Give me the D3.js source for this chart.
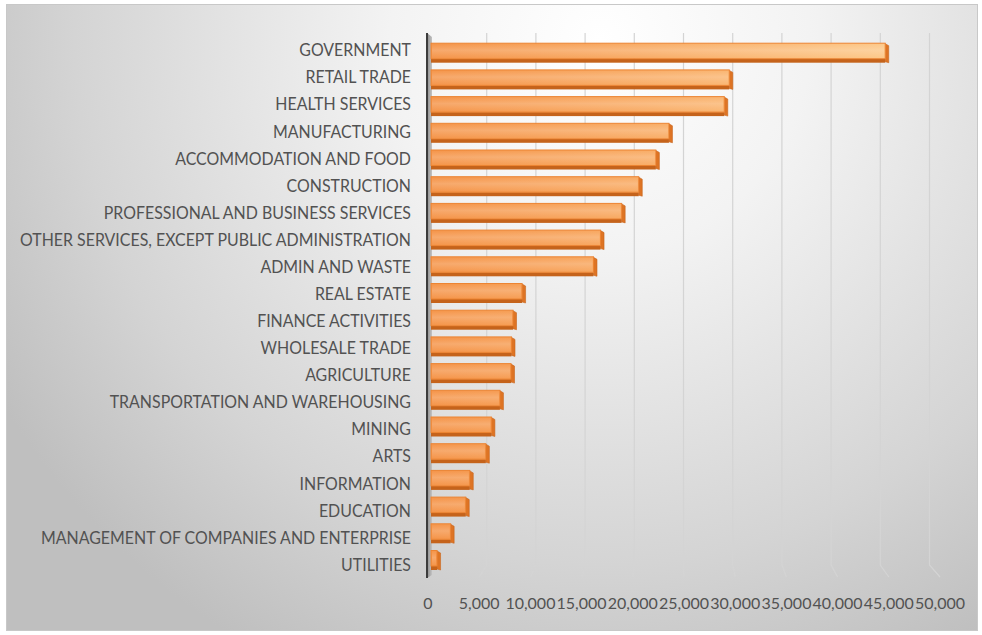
<!DOCTYPE html>
<html>
<head>
<meta charset="utf-8">
<script src="https://cdn.jsdelivr.net/npm/d3@7"></script>
<style>
  html, body { margin: 0; padding: 0; background: #ffffff; }
  svg { display: block; }
  text { font-family: Lato, "Open Sans", sans-serif; fill: #525252; }
</style>
</head>
<body>
<svg id="chart" width="982" height="635"></svg>
<script>
// Employment by industry
const categories = [
  "GOVERNMENT", "RETAIL TRADE", "HEALTH SERVICES", "MANUFACTURING",
  "ACCOMMODATION AND FOOD", "CONSTRUCTION", "PROFESSIONAL AND BUSINESS SERVICES",
  "OTHER SERVICES, EXCEPT PUBLIC ADMINISTRATION", "ADMIN AND WASTE", "REAL ESTATE",
  "FINANCE ACTIVITIES", "WHOLESALE TRADE", "AGRICULTURE", "TRANSPORTATION AND WAREHOUSING",
  "MINING", "ARTS", "INFORMATION", "EDUCATION",
  "MANAGEMENT OF COMPANIES AND ENTERPRISE", "UTILITIES"
];
const employment = [
  45500, 30000, 29500, 24000,
  22700, 21000, 19300,
  17200, 16500, 9400,
  8500, 8350, 8300, 7200,
  6350, 5800, 4200, 3800,
  2300, 950
];
const tickValues = [0, 5000, 10000, 15000, 20000, 25000, 30000, 35000, 40000, 45000, 50000];

const svg = d3.select("#chart");
const defs = svg.append("defs");

// ---- backdrop -------------------------------------------------------
const bg = defs.append("radialGradient").attr("id", "bgGrad")
  .attr("gradientUnits", "userSpaceOnUse")
  .attr("cx", 600).attr("cy", 40).attr("r", 700);
bg.append("stop").attr("offset", 0).attr("stop-color", "#ffffff");
bg.append("stop").attr("offset", 0.3).attr("stop-color", "#f3f3f3");
bg.append("stop").attr("offset", 0.75).attr("stop-color", "#d4d4d4");
bg.append("stop").attr("offset", 1).attr("stop-color", "#bfbfbf");

svg.append("rect")
  .attr("x", 6.5).attr("y", 4.5).attr("width", 971).attr("height", 626)
  .attr("fill", "url(#bgGrad)").attr("stroke", "#c8c8c8").attr("stroke-width", 1);

// ---- scales ---------------------------------------------------------
const domainMax = d3.max(tickValues);
// back wall (gridlines), bar fronts and the floor's front edge sit at different depths
const xWall  = d3.scaleLinear().domain([0, domainMax]).range([437.5, 929.5]);
const xBar   = d3.scaleLinear().domain([0, domainMax]).range([431, 934]);
const xFloor = d3.scaleLinear().domain([0, domainMax]).range([428, 940]);

const yBar = d3.scaleBand().domain(categories).range([39.6, 573.6])
  .paddingInner(0.27).paddingOuter(0.135);
const yLabel = d3.scalePoint().domain(categories).range([50.5, 565]);

const wallTop = 33, wallBottom = 565, floorFront = 577;

// ---- gridlines on the back wall, bending across the floor -----------
svg.append("g").attr("class", "grid")
  .selectAll("path")
  .data(tickValues.filter(v => v > 0))
  .join("path")
  .attr("d", v => `M${xWall(v)},${wallTop} L${xWall(v)},${wallBottom} L${xFloor(v)},${floorFront}`)
  .attr("fill", "none")
  .attr("stroke", "#d4d4d4")
  .attr("stroke-width", 1.2);

// ---- side wall and axis edge ----------------------------------------
const wallGrad = defs.append("linearGradient").attr("id", "wallGrad")
  .attr("x1", 0).attr("x2", 1).attr("y1", 0).attr("y2", 0);
wallGrad.append("stop").attr("offset", 0).attr("stop-color", "#8c8c8c");
wallGrad.append("stop").attr("offset", 1).attr("stop-color", "#c4c4c4");
svg.append("path")
  .attr("d", `M427,${wallTop} L${xBar(0) + 1},${wallTop + 4} L${xBar(0) + 1},${floorFront - 2} L427,${floorFront + 1} Z`)
  .attr("fill", "url(#wallGrad)");
svg.append("line")
  .attr("x1", 427).attr("x2", 427).attr("y1", wallTop).attr("y2", floorFront + 1)
  .attr("stroke", "#3c3c3c").attr("stroke-width", 2);

// ---- bars -----------------------------------------------------------
const faceGrad = defs.append("linearGradient").attr("id", "faceGrad")
  .attr("gradientUnits", "userSpaceOnUse")
  .attr("x1", xBar(0)).attr("x2", xBar(46000)).attr("y1", 0).attr("y2", 0);
faceGrad.append("stop").attr("offset", 0).attr("stop-color", "#f5964c");
faceGrad.append("stop").attr("offset", 0.5).attr("stop-color", "#f9af6a");
faceGrad.append("stop").attr("offset", 1).attr("stop-color", "#fdca8c");

const sheen = defs.append("linearGradient").attr("id", "sheen")
  .attr("x1", 0).attr("x2", 0).attr("y1", 0).attr("y2", 1);
sheen.append("stop").attr("offset", 0).attr("stop-color", "#ffffff").attr("stop-opacity", 0);
sheen.append("stop").attr("offset", 0.45).attr("stop-color", "#ffffff").attr("stop-opacity", 0.18);
sheen.append("stop").attr("offset", 1).attr("stop-color", "#ffffff").attr("stop-opacity", 0);

const rows = categories.map((c, i) => ({ cat: c, value: employment[i] }));
const bh = yBar.bandwidth();
const depth = 3.5, under = 4;

const bars = svg.append("g").attr("class", "bars")
  .selectAll("g").data(rows).join("g");

// end cap (right face)
bars.append("path")
  .attr("d", d => {
    const x1 = xBar(d.value), y = yBar(d.cat);
    return `M${x1 - depth},${y + 0.5} L${x1},${y + 2.5} L${x1},${y + bh} L${x1 - depth},${y + bh - 1} Z`;
  })
  .attr("fill", "#de7424").attr("stroke", "#c8651c").attr("stroke-width", 0.6);

// underside
bars.append("rect")
  .attr("x", xBar(0))
  .attr("y", d => yBar(d.cat) + bh - under)
  .attr("width", d => Math.max(0, xBar(d.value) - depth - xBar(0)))
  .attr("height", under)
  .attr("fill", "#c5631b");

// front face
bars.append("rect")
  .attr("x", xBar(0))
  .attr("y", d => yBar(d.cat))
  .attr("width", d => Math.max(0, xBar(d.value) - depth - xBar(0)))
  .attr("height", bh - under)
  .attr("fill", "url(#faceGrad)")
  .attr("stroke", "#ec8432").attr("stroke-width", 1);

bars.append("rect")
  .attr("x", xBar(0) + 1)
  .attr("y", d => yBar(d.cat) + 1)
  .attr("width", d => Math.max(0, xBar(d.value) - depth - xBar(0) - 2))
  .attr("height", bh - under - 2)
  .attr("fill", "url(#sheen)");

// ---- category labels ------------------------------------------------
const capHalf = 5.8;
const catText = svg.append("g").attr("class", "cat-labels")
  .selectAll("text").data(categories).join("text")
  .attr("x", 411)
  .attr("y", d => yLabel(d) + capHalf)
  .attr("text-anchor", "end")
  .attr("font-size", 16.3)
  .text(d => d);

// condense the labels so the longest one spans its column
const widths = catText.nodes().map(n => n.getComputedTextLength());
const squeeze = 391 / d3.max(widths);
catText.attr("textLength", (d, i) => widths[i] * squeeze)
  .attr("lengthAdjust", "spacingAndGlyphs");

// ---- value axis labels along the floor's front edge -----------------
const fmt = d3.format(",");
svg.append("g").attr("class", "x-labels")
  .selectAll("text").data(tickValues).join("text")
  .attr("x", d => xFloor(d))
  .attr("y", 603 + capHalf)
  .attr("text-anchor", "middle")
  .attr("font-size", 16)
  .text(d => fmt(d));
</script>
</body>
</html>
